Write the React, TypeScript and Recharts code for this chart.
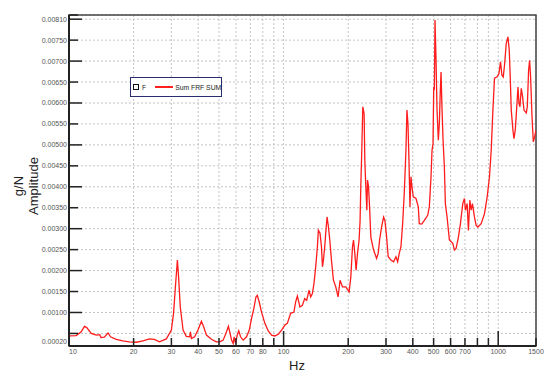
import React from 'react';
import { LineChart, Line, XAxis, YAxis, CartesianGrid, ReferenceArea, Legend } from 'recharts';

// FRF magnitude (Hz, g/N)
const freqHz = [
  10, 10.8, 11.4, 11.8, 12.1, 12.7, 13.4, 13.9, 14.1, 14.6, 15.2, 15.6, 16.6, 17.8, 19.1, 20.6, 22.1, 23.7, 25.0, 26.4,
  28.4, 30.0, 30.7, 31.4, 32.0, 32.4, 33.0, 34.0, 35.2, 36.5, 36.8, 37.2, 38.5, 39.9, 41.4, 42.4, 43.7, 46.1, 48.6, 50.4,
  52.3, 54.2, 55.3, 56.1, 57.2, 58.2, 58.8, 59.7, 60.8, 61.8, 63.0, 64.8, 67.2, 69.2, 70.9, 72.7, 74.3, 75.4, 77.0, 78.9,
  81.8, 84.8, 87.9, 91.1, 94.5, 97.9, 101.4, 104.1, 107.8, 111.7, 113.8, 115.9, 119.2, 122.3, 125.4, 128.1, 131.3, 133.7, 136.2, 138.5,
  141.1, 143.7, 145.2, 147.8, 150.1, 151.7, 153.3, 155.5, 157.1, 159.4, 161.8, 164.1, 167.1, 170.7, 175.0, 179.4, 183.3, 188.1, 194.9, 201.9,
  205.7, 209.4, 211.7, 214.7, 217.7, 221.0, 224.8, 227.2, 228.9, 231.4, 233.9, 237.2, 239.0, 241.6, 244.3, 246.1, 248.8, 251.5, 255.0, 262.6,
  271.2, 275.9, 280.1, 286.1, 292.4, 296.5, 302.0, 307.2, 316.2, 325.5, 333.7, 340.0, 345.8, 352.2, 358.7, 364.9, 371.6, 375.6, 379.7, 383.8,
  388.0, 392.2, 396.4, 402.0, 413.9, 424.3, 428.8, 440.1, 452.5, 469.4, 477.5, 486.3, 491.6, 496.9, 500.6, 503.9, 507.7, 513.2, 518.8, 526.0,
  531.7, 537.5, 541.5, 547.4, 553.4, 561.2, 567.2, 577.7, 592.2, 614.3, 625.0, 636.5, 652.5, 666.6, 683.9, 695.9, 703.4, 716.3, 726.4, 737.5,
  747.8, 758.4, 775.0, 789.3, 803.8, 832.9, 863.0, 888.4, 910.6, 927.5, 944.6, 961.0, 986.0, 1007.6, 1025.0, 1040.6, 1055.3, 1070.1, 1090.0, 1110.1,
  1125.8, 1137.8, 1150.1, 1171.4, 1184.1, 1200.7, 1217.6, 1236.2, 1249.4, 1263.0, 1280.8, 1299.0, 1318.6, 1351.6, 1366.3, 1385.6, 1400.7, 1415.6, 1437.3, 1457.6,
  1477.9, 1500,
];
const amplitude = [
  0.00044, 0.00045, 0.00054, 0.00067, 0.00064, 0.00050, 0.00046, 0.00047, 0.00040, 0.00041, 0.00051, 0.00042, 0.00036, 0.00032, 0.00030, 0.00029, 0.00032, 0.00037, 0.00036, 0.00030,
  0.00037, 0.00058, 0.00098, 0.00169, 0.00225, 0.00185, 0.00113, 0.00058, 0.00043, 0.00042, 0.00054, 0.00038, 0.00042, 0.00058, 0.00079, 0.00066, 0.00046, 0.00036, 0.00030, 0.00030,
  0.00034, 0.00054, 0.00067, 0.00054, 0.00034, 0.00026, 0.00042, 0.00026, 0.00046, 0.00056, 0.00042, 0.00034, 0.00042, 0.00058, 0.00086, 0.00110, 0.00137, 0.00141, 0.00125, 0.00101,
  0.00074, 0.00056, 0.00046, 0.00044, 0.00048, 0.00058, 0.00070, 0.00074, 0.00098, 0.00101, 0.00125, 0.00139, 0.00113, 0.00117, 0.00133, 0.00129, 0.00153, 0.00137, 0.00145, 0.00169,
  0.00209, 0.00257, 0.00296, 0.00289, 0.00257, 0.00209, 0.00225, 0.00257, 0.00289, 0.00328, 0.00304, 0.00273, 0.00225, 0.00177, 0.00161, 0.00137, 0.00177, 0.00161, 0.00161, 0.00149,
  0.00185, 0.00257, 0.00273, 0.00241, 0.00201, 0.00241, 0.00273, 0.00320, 0.00400, 0.00487, 0.00591, 0.00575, 0.00464, 0.00400, 0.00344, 0.00416, 0.00400, 0.00352, 0.00280, 0.00249,
  0.00229, 0.00241, 0.00273, 0.00304, 0.00328, 0.00320, 0.00280, 0.00233, 0.00225, 0.00221, 0.00233, 0.00221, 0.00241, 0.00257, 0.00312, 0.00384, 0.00487, 0.00583, 0.00551, 0.00464,
  0.00352, 0.00424, 0.00400, 0.00376, 0.00372, 0.00352, 0.00312, 0.00311, 0.00320, 0.00332, 0.00352, 0.00424, 0.00487, 0.00503, 0.00638, 0.00631, 0.00798, 0.00702, 0.00583, 0.00511,
  0.00551, 0.00631, 0.00674, 0.00583, 0.00511, 0.00448, 0.00360, 0.00328, 0.00273, 0.00265, 0.00249, 0.00253, 0.00280, 0.00312, 0.00360, 0.00372, 0.00344, 0.00360, 0.00296, 0.00368,
  0.00344, 0.00360, 0.00328, 0.00308, 0.00304, 0.00312, 0.00336, 0.00376, 0.00424, 0.00487, 0.00583, 0.00659, 0.00662, 0.00670, 0.00698, 0.00666, 0.00662, 0.00690, 0.00742, 0.00758,
  0.00726, 0.00662, 0.00583, 0.00535, 0.00515, 0.00535, 0.00583, 0.00638, 0.00599, 0.00591, 0.00635, 0.00615, 0.00583, 0.00576, 0.00591, 0.00678, 0.00702, 0.00662, 0.00567, 0.00507,
  0.00519, 0.00535,
];

const xTicks = [10, 20, 30, 40, 50, 60, 70, 80, 90, 100, 200, 300, 400, 500, 600, 700, 800, 900, 1000, 1500];
const xTickLabels = ['10', '20', '30', '40', '50', '60', '70', '80', '', '100', '200', '300', '400', '500', '600', '700', '', '', '1000', '1500'];
const yTicks = [0.0002, 0.0005, 0.001, 0.0015, 0.002, 0.0025, 0.003, 0.0035, 0.004, 0.0045, 0.005, 0.0055, 0.006, 0.0065, 0.007, 0.0075, 0.008, 0.0081];
const yTickLabels = ['0.00020', '', '0.00100', '0.00150', '0.00200', '0.00250', '0.00300', '0.00350', '0.00400', '0.00450', '0.00500', '0.00550', '0.00600', '0.00650', '0.00700', '0.00750', '', '0.00810'];

const data = freqHz.map((f, i) => ({ f, a: amplitude[i] }));

const FONT = '"Liberation Sans", Arial, sans-serif';

const XTick = (props: any) => {
  const { x, y, index, payload } = props;
  const v = payload.value;
  const len = v === 100 || v === 1000 ? 15 : 8;
  const label = xTickLabels[index];
  return (
    <g>
      <line x1={x} x2={x} y1={y} y2={y - len} stroke="#222" strokeWidth={1.5} />
      {label && (
        <text x={x} y={y + 8} textAnchor={index === 0 ? 'start' : 'middle'} fontSize={7} fill="#555" fontFamily={FONT}>
          {label}
        </text>
      )}
    </g>
  );
};

const YTick = (props: any) => {
  const { x, y, index } = props;
  const v = yTicks[index];
  const major = Math.abs(v * 1000 - Math.round(v * 1000)) < 1e-6;
  const len = major ? 13 : 9;
  const label = yTickLabels[index];
  // end labels sit a little inside the frame, as in the source plot
  const nudge = index === yTicks.length - 1 ? 4 : index === 0 ? -5 : 0;
  return (
    <g>
      <line x1={x} x2={x + len} y1={y} y2={y} stroke="#222" strokeWidth={1.5} />
      {label && (
        <text x={x - 2} y={y + nudge + 2.5} textAnchor="end" fontSize={7} fill="#555" fontFamily={FONT}>
          {label}
        </text>
      )}
    </g>
  );
};

const LegendBox = () => (
  <div
    style={{
      boxSizing: 'border-box',
      width: 92,
      height: 20,
      border: '1.5px solid #2a2c6e',
      background: '#fff',
      display: 'flex',
      alignItems: 'center',
      whiteSpace: 'nowrap',
      fontFamily: FONT,
      fontSize: 6.8,
      color: '#222',
      paddingLeft: 2,
    }}
  >
    <span style={{ flex: 'none', width: 4, height: 4, border: '1.5px solid #111', display: 'inline-block' }} />
    <span style={{ flex: 'none', marginLeft: 3 }}>F</span>
    <span style={{ flex: 'none', marginLeft: 9, width: 18, height: 1.5, background: '#ff2020', display: 'inline-block' }} />
    <span style={{ flex: 'none', marginLeft: 2 }}>Sum FRF SUM</span>
  </div>
);

export default function App() {
  return (
    <div style={{ position: 'absolute', left: 0, top: 0, width: 550, height: 382, background: '#fff' }}>
      <LineChart width={550} height={382} data={data} margin={{ top: 15, right: 14, left: 0, bottom: 0 }}>
        <CartesianGrid stroke="#c4c4c4" strokeDasharray="2 2" strokeWidth={1} />
        <XAxis
          dataKey="f"
          type="number"
          scale="log"
          domain={[10, 1500]}
          ticks={xTicks}
          interval={0}
          height={36}
          tickSize={0}
          tickMargin={0}
          tickLine={false}
          axisLine={{ stroke: '#222', strokeWidth: 2 }}
          tick={XTick}
          allowDataOverflow
          label={() => (
            <text x={297} y={370} textAnchor="middle" fontSize={13} fill="#222" fontFamily={FONT}>
              Hz
            </text>
          )}
        />
        <YAxis
          type="number"
          domain={[0.0002, 0.0081]}
          ticks={yTicks}
          interval={0}
          width={69}
          tickSize={0}
          tickMargin={0}
          tickLine={false}
          axisLine={{ stroke: '#222', strokeWidth: 2 }}
          tick={YTick}
          allowDataOverflow
          label={() => (
            <g fontFamily={FONT} fontSize={13} fill="#222">
              <text x={23} y={186} textAnchor="middle" transform="rotate(-90 23 186)">g/N</text>
              <text x={38} y={186} textAnchor="middle" transform="rotate(-90 38 186)">Amplitude</text>
            </g>
          )}
        />
        <ReferenceArea x1={10} x2={1500} y1={0.0002} y2={0.0081} fill="none" stroke="#444" strokeWidth={1.5} ifOverflow="visible" />
        <Legend
          layout="horizontal"
          verticalAlign="middle"
          align="center"
          wrapperStyle={{ left: 130, top: 77, width: 92, height: 20 }}
          content={() => <LegendBox />}
        />
        <Line type="linear" dataKey="a" stroke="#ff1c1c" strokeWidth={1.3} dot={false} isAnimationActive={false} />
      </LineChart>
    </div>
  );
}
